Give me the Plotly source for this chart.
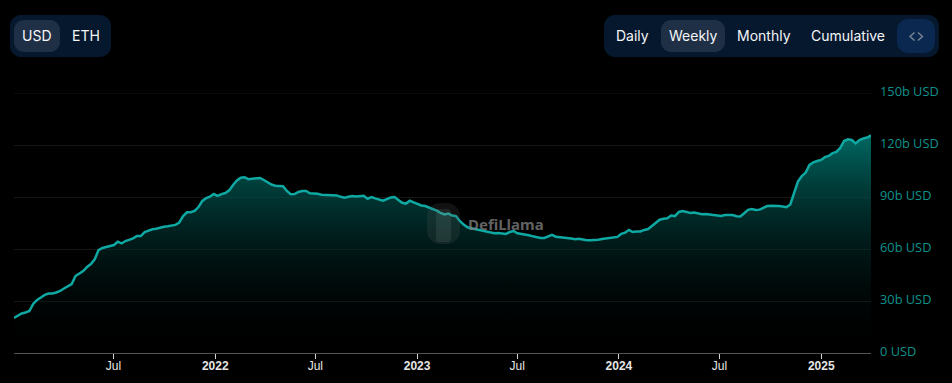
import pandas as pd
import plotly.graph_objects as go

START_DATE = "2021-01-02"
END_DATE = "2025-04-01"
TVL_BILLIONS = [
    20.2,21.3,22.8,23.4,24.2,28.3,30.6,32,33.5,34.3,34.3,34.9,35.8,37.2,38.7,39.8,
    44.4,45.9,47.3,49.6,51.3,54,59.4,60.6,61.2,61.4,62.3,64.2,63.2,64.6,65.2,66.1,
    67.5,67.5,69.8,70.7,71.4,71.7,72.4,72.8,73.1,73.3,73.9,75.3,79,81.2,81.2,82,
    84.2,87.7,89.3,90.2,91.7,90.6,91.7,92.3,93.8,96.9,99.5,101.1,101.4,100.3,100.4,100.8,
    101,99.8,98.5,97.2,96.5,96.4,96.2,93.5,91.6,91.7,92.9,93.4,93.5,92.1,92,91.9,
    91.3,91.2,91,91,90.9,90.1,89.6,90.1,90.6,90.3,90.6,90.7,89,90,89.2,88.5,
    87.9,88.8,89.7,90,88.5,86.7,86.2,87.9,86.9,86,85.1,84.8,83.9,83.1,82.2,80.8,
    79.9,80.5,79.3,79,76.2,74.1,72.5,72,71.5,70.8,70.2,69.7,69.2,69.1,69.2,69.1,
    68.7,69.8,70.4,69.1,68.8,68.5,67.9,67.3,66.7,66.4,66.4,67.5,68.2,67.1,66.9,66.8,
    66.5,66.1,65.6,65.9,65.5,65,65,65,65.4,65.8,66.1,66.5,66.8,67,68.7,69.4,
    71,69.8,70.1,70.1,71,71.5,73.3,75,76.9,77.5,77.7,79.3,79,81.4,81.9,81.4,
    80.8,81,80.5,80,80.2,79.9,79.6,79.3,79,79.6,79.6,79.6,78.9,78.8,80.6,82.6,
    83.1,82.5,82.7,84,84.8,85,85,84.8,84.5,84.1,85.7,93,99,102.1,104.1,108.5,
    110,110.8,111.4,113,113.7,115.3,116,118.3,122.3,123.3,122.9,120.9,122.9,123.8,124.3,125.5,
]
Y_TICKS = [0, 30, 60, 90, 120, 150]
Y_LABELS = ["0 USD", "30b USD", "60b USD", "90b USD", "120b USD", "150b USD"]
X_TICKS = ["2021-07-01", "2022-01-01", "2022-07-01", "2023-01-01",
           "2023-07-01", "2024-01-01", "2024-07-01", "2025-01-01"]
X_LABELS = ["Jul", "<b>2022</b>", "Jul", "<b>2023</b>", "Jul", "<b>2024</b>", "Jul", "<b>2025</b>"]
CURRENCY_TABS = ["USD", "ETH"]
PERIOD_TABS = ["Daily", "Weekly", "Monthly", "Cumulative"]

W, H = 952, 383
L, R, T, B = 14, 81, 93, 30
PW, PH = W - L - R, H - T - B
dates = pd.date_range(START_DATE, END_DATE, periods=len(TVL_BILLIONS))


def px(x):
    return (x - L) / PW


def py(y):
    return (H - B - y) / PH


def pill(x0, y0, x1, y1, r, color):
    k = 0.45 * r
    cmds = [
        (x0 + r, y0, "M"), (x1 - r, y0, "L"),
        (x1 - k, y0, "C"), (x1, y0 + k, ""), (x1, y0 + r, ""),
        (x1, y1 - r, "L"),
        (x1, y1 - k, "C"), (x1 - k, y1, ""), (x1 - r, y1, ""),
        (x0 + r, y1, "L"),
        (x0 + k, y1, "C"), (x0, y1 - k, ""), (x0, y1 - r, ""),
        (x0, y0 + r, "L"),
        (x0, y0 + k, "C"), (x0 + k, y0, ""), (x0 + r, y0, ""),
    ]
    path = " ".join(f"{c}{px(a):.5f},{py(b):.5f}" for a, b, c in cmds) + " Z"
    return dict(type="path", xref="paper", yref="paper", path=path,
                fillcolor=color, line=dict(width=0), layer="above")


def stroke(points, color, width):
    path = "M" + " L".join(f"{px(a):.5f},{py(b):.5f}" for a, b in points)
    return dict(type="path", xref="paper", yref="paper", path=path,
                line=dict(color=color, width=width), layer="above")


fig = go.Figure(
    go.Scatter(
        x=dates, y=TVL_BILLIONS, mode="lines",
        line=dict(color="#0fa8a2", width=2.5, shape="linear"),
        fill="tozeroy",
        fillgradient=dict(
            type="vertical",
            colorscale=[[0, "rgba(0,0,0,0)"], [1, "rgba(0,112,106,0.92)"]],
        ),
        hoverinfo="skip",
        cliponaxis=False,
    )
)

shapes = [
    pill(10, 15, 111, 57, 11, "#06182e"),
    pill(14, 20, 60, 52, 10, "#1f2f45"),
    pill(604, 15, 939, 57, 11, "#06182e"),
    pill(661, 20, 725, 52, 10, "#1f2f45"),
    pill(897, 19, 935, 53, 11, "#0b2850"),
    stroke([(914.5, 32.5), (910, 36.5), (914.5, 40.5)], "#7b8794", 1.4),
    stroke([(918, 32.5), (922.5, 36.5), (918, 40.5)], "#7b8794", 1.4),
    pill(427, 203, 460, 244, 13, "rgba(90,90,90,0.2)"),
    pill(436, 209, 451, 242, 3, "rgba(150,170,170,0.13)"),
    dict(type="line", xref="paper", yref="y", x0=0, x1=1, y0=Y_TICKS[-1], y1=Y_TICKS[-1],
         line=dict(color="#161616", width=1), layer="below"),
]

annotations = []
for text, cx in zip(CURRENCY_TABS + PERIOD_TABS, [37, 85.5, 632.7, 693, 764, 847.7]):
    annotations.append(dict(
        text=text, xref="paper", yref="paper", x=px(cx), y=py(35.5),
        xanchor="center", yanchor="middle", showarrow=False,
        font=dict(family="Inter", size=14, color="#f4f6f8"),
    ))
annotations.append(dict(
    text="<b>DefiLlama</b>", xref="paper", yref="paper", x=px(506.5), y=py(224),
    xanchor="center", yanchor="middle", showarrow=False,
    font=dict(family="Noto Sans", size=15, color="rgba(125,125,125,0.8)"),
))

fig.update_layout(
    width=W, height=H, autosize=False,
    margin=dict(l=L, r=R, t=T, b=B, pad=0, autoexpand=False),
    paper_bgcolor="#000000", plot_bgcolor="#000000",
    showlegend=False, hovermode=False,
    shapes=shapes, annotations=annotations,
    xaxis=dict(
        type="date", range=[dates[0], dates[-1]], automargin=False,
        tickmode="array", tickvals=X_TICKS, ticktext=X_LABELS,
        showgrid=False, zeroline=False,
        showline=True, linecolor="#555555", linewidth=1,
        ticks="outside", ticklen=5, tickwidth=1, tickcolor="#d8d8d8",
        ticklabelstandoff=-3,
        tickfont=dict(family="Liberation Sans", size=12, color="#e6e6e6"),
    ),
    yaxis=dict(
        side="right", range=[0, 150], automargin=False,
        tickmode="array", tickvals=Y_TICKS, ticktext=Y_LABELS,
        showgrid=True, gridcolor="#161616", gridwidth=1,
        zeroline=False, showline=False, ticks="",
        ticklabelstandoff=8, ticklabelshift=-1,
        tickfont=dict(family="Open Sans", size=12.8, color="#0f928c"),
    ),
)

fig.write_html(
    "out.html",
    config=dict(displayModeBar=False, staticPlot=True),
    post_script="document.body.style.margin='0';document.documentElement.style.overflow='hidden';",
)
